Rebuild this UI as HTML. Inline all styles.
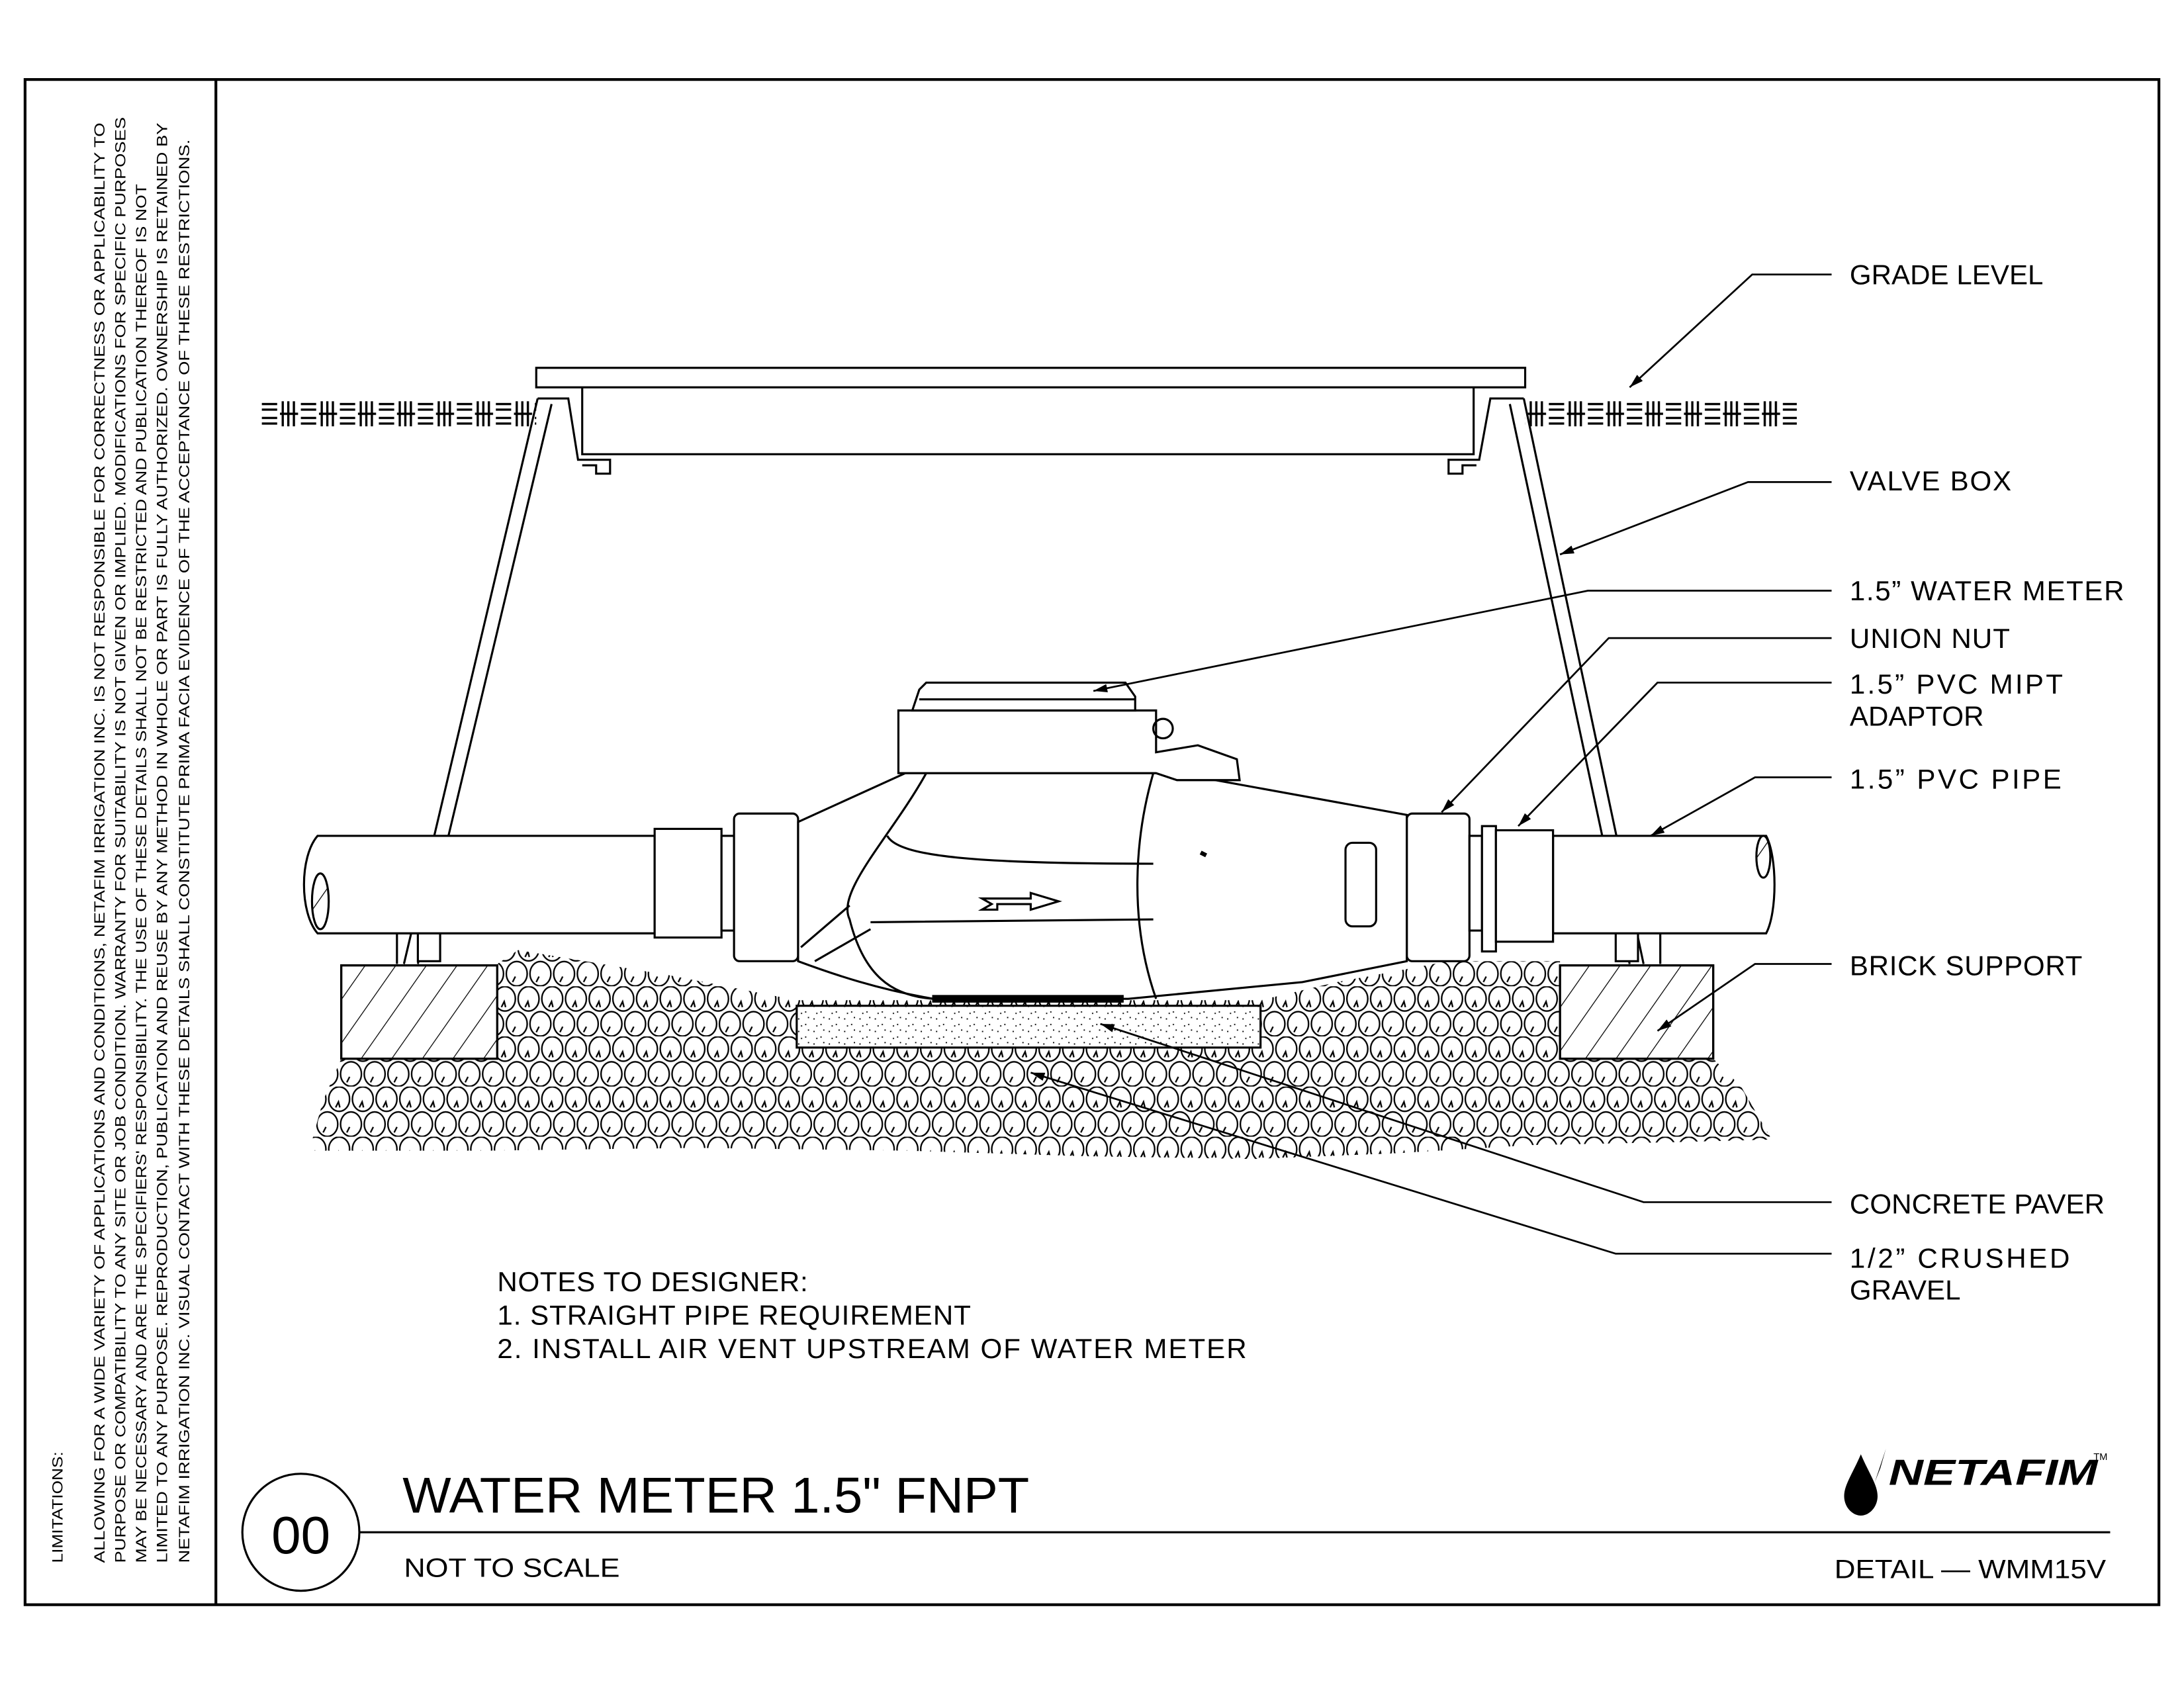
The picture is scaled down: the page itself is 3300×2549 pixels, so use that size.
<!DOCTYPE html>
<html><head><meta charset="utf-8"><style>
html,body{margin:0;padding:0;background:#fff}
svg{display:block}
text{font-family:"Liberation Sans",sans-serif;fill:#000}
</style></head><body>
<svg width="3300" height="2549" viewBox="0 0 1568 1211" xmlns="http://www.w3.org/2000/svg">
<defs>
<pattern id="hat" width="18" height="18" patternUnits="userSpaceOnUse" patternTransform="rotate(35)">
<line x1="0" y1="0" x2="0" y2="18" stroke="#000" stroke-width="1.2"/></pattern>
<pattern id="grd" width="28" height="26" patternUnits="userSpaceOnUse" x="187" y="284">
<rect width="28" height="26" fill="#fff"/>
<g stroke="#000" stroke-width="1.6">
<line x1="1" y1="6" x2="12" y2="6"/><line x1="1" y1="10" x2="12" y2="10"/>
<line x1="1" y1="16" x2="12" y2="16"/><line x1="1" y1="20" x2="12" y2="20"/>
<line x1="16" y1="4" x2="16" y2="22"/><line x1="20" y1="4" x2="20" y2="22"/>
<line x1="24" y1="4" x2="24" y2="22"/><line x1="14" y1="13" x2="27" y2="13"/></g>
</pattern>
<pattern id="grav" width="17" height="36" patternUnits="userSpaceOnUse" x="218" y="672">
<rect width="17" height="36" fill="#fff"/>
<g fill="none" stroke="#000" stroke-width="1.1">
<ellipse cx="8.5" cy="9" rx="7.5" ry="8.8"/>
<ellipse cx="0" cy="27" rx="7.5" ry="8.8"/>
<ellipse cx="17" cy="27" rx="7.5" ry="8.8"/>
<path d="M6,15 l2,-4 l1,4 M14,33 l2,-4"/>
</g></pattern>
<pattern id="dot" width="11" height="9" patternUnits="userSpaceOnUse">
<rect width="11" height="9" fill="#fff"/>
<g fill="#000"><rect x="1" y="2" width="0.9" height="0.9"/><rect x="6" y="6" width="0.9" height="0.9"/><rect x="8" y="1" width="0.9" height="0.9"/><rect x="3" y="7" width="0.9" height="0.9"/></g>
</pattern>
<marker id="ar" viewBox="0 0 10 6" refX="10" refY="3" markerWidth="10" markerHeight="6" orient="auto" markerUnits="userSpaceOnUse">
<path d="M0,0 L10,3 L0,6 z" fill="#000"/></marker>
</defs>
<rect x="0" y="0" width="1568" height="1211" fill="#fff"/>
<rect x="18" y="57" width="1532" height="1095" fill="none" stroke="#000" stroke-width="2"/>
<line x1="155" y1="57" x2="155" y2="1152" stroke="#000" stroke-width="2"/>

<g font-size="10.5">
<text transform="translate(45,1122) rotate(-90)" textLength="80" lengthAdjust="spacingAndGlyphs">LIMITATIONS:</text>
<text transform="translate(75,1122) rotate(-90)" textLength="1034" lengthAdjust="spacingAndGlyphs">ALLOWING FOR A WIDE VARIETY OF APPLICATIONS AND CONDITIONS, NETAFIM IRRIGATION INC. IS NOT RESPONSIBLE FOR CORRECTNESS OR APPLICABILITY TO</text>
<text transform="translate(90,1122) rotate(-90)" textLength="1038" lengthAdjust="spacingAndGlyphs">PURPOSE OR COMPATIBILITY TO ANY SITE OR JOB CONDITION. WARRANTY FOR SUITABILITY IS NOT GIVEN OR IMPLIED. MODIFICATIONS FOR SPECIFIC PURPOSES</text>
<text transform="translate(105,1122) rotate(-90)" textLength="990" lengthAdjust="spacingAndGlyphs">MAY BE NECESSARY AND ARE THE SPECIFIERS' RESPONSIBILITY. THE USE OF THESE DETAILS SHALL NOT BE RESTRICTED AND PUBLICATION THEREOF IS NOT</text>
<text transform="translate(120,1122) rotate(-90)" textLength="1034" lengthAdjust="spacingAndGlyphs">LIMITED TO ANY PURPOSE. REPRODUCTION, PUBLICATION AND REUSE BY ANY METHOD IN WHOLE OR PART IS FULLY AUTHORIZED. OWNERSHIP IS RETAINED BY</text>
<text transform="translate(136,1122) rotate(-90)" textLength="1022" lengthAdjust="spacingAndGlyphs">NETAFIM IRRIGATION INC. VISUAL CONTACT WITH THESE DETAILS SHALL CONSTITUTE PRIMA FACIA EVIDENCE OF THE ACCEPTANCE OF THESE RESTRICTIONS.</text>
</g>

<line x1="258" y1="1100" x2="1515" y2="1100" stroke="#000" stroke-width="1.5"/>
<circle cx="216" cy="1100" r="42" fill="#fff" stroke="#000" stroke-width="1.5"/>
<text x="216" y="1115" font-size="38" text-anchor="middle">00</text>
<text x="289" y="1086" font-size="36" textLength="450" lengthAdjust="spacingAndGlyphs">WATER METER 1.5" FNPT</text>
<text x="290" y="1132" font-size="19" textLength="155" lengthAdjust="spacingAndGlyphs">NOT TO SCALE</text>
<text x="1317" y="1133" font-size="19" textLength="195" lengthAdjust="spacingAndGlyphs">DETAIL — WMM15V</text>
<path d="M1336,1044 C1330,1058 1324,1066 1324,1074 C1324,1082 1330,1088 1336,1088 C1342,1088 1348,1082 1348,1074 C1348,1066 1342,1058 1336,1044 Z" fill="#000"/>
<path d="M1350,1054 L1354,1040 L1346,1064 Z" fill="#000"/>
<text x="1356" y="1066" font-size="26" font-weight="bold" font-style="italic" textLength="150" lengthAdjust="spacingAndGlyphs">NETAFIM</text>
<text x="1503" y="1048" font-size="7">TM</text>

<rect x="187" y="284" width="198" height="26" fill="url(#grd)"/>
<rect x="1095" y="284" width="195" height="26" fill="url(#grd)"/>

<path d="M222,826 L232,790 L245,760 L357,760 L357,692 L372,682 L420,690 L480,700 L572,718 L905,718 L960,705 L1040,690 L1120,690 L1120,760 L1230,760 L1250,780 L1272,818 L1200,820 L1100,822 L1000,828 L900,832 L780,830 L650,826 L500,824 L350,826 Z" fill="url(#grav)"/>

<g fill="none" stroke="#000" stroke-width="1.5">
<rect x="385" y="264" width="710" height="14" fill="#fff"/>
<path d="M386,286 L290,692 M396,290 L300,692"/>
<path d="M1094,286 L1180,692 M1084,290 L1170,692"/>
<path d="M386,286 L408,286 L415,330 L438,330 L438,340 L428,340 L428,334 L418,334"/>
<path d="M1094,286 L1070,286 L1062,330 L1040,330 L1040,340 L1050,340 L1050,334 L1060,334"/>
<path d="M418,278 L418,326 L1058,326 L1058,278"/>
<path d="M285,668 L285,692 M300,668 L300,690 L316,690 L316,668" fill="#fff"/>
<path d="M1160,668 L1160,690 L1176,690 L1176,668 M1192,668 L1192,692" fill="#fff"/>
<path d="M228,600 L470,600 L470,670 L228,670 C215,655 215,615 228,600 Z" fill="#fff"/>
<ellipse cx="230" cy="647" rx="6" ry="20" fill="url(#hat)"/>
<path d="M1115,600 L1268,600 C1276,615 1276,655 1268,670 L1115,670 Z" fill="#fff"/>
<ellipse cx="1266" cy="615" rx="5" ry="15" fill="url(#hat)"/>
<rect x="470" y="595" width="48" height="78" fill="#fff"/>
<rect x="518" y="600" width="9" height="68" fill="#fff"/>
<rect x="527" y="584" width="46" height="106" rx="4" fill="#fff"/>
<rect x="1010" y="584" width="45" height="106" rx="4" fill="#fff"/>
<rect x="1055" y="600" width="9" height="68" fill="#fff"/>
<rect x="1064" y="593" width="10" height="90" fill="#fff"/>
<rect x="1074" y="596" width="41" height="80" fill="#fff"/>
<path d="M573,590 L650,555 L845,555 L1010,585 L1010,690 L935,705 L810,717 L670,717 C630,710 600,700 573,690 Z" fill="#fff"/>
<path d="M665,555 C640,600 600,640 610,660 C620,700 640,715 670,717"/>
<path d="M828,555 C815,600 810,660 830,717"/>
<path d="M637,600 C645,615 700,620 828,620 M625,662 L828,660"/>
<path d="M575,680 L610,650 M585,690 L625,667"/>
<path d="M705,645 L740,645 L740,641 L760,647 L740,653 L740,649 L716,649 L716,653 L705,653 L712,649 Z"/>
<rect x="966" y="605" width="22" height="60" rx="5" fill="#fff"/>
<rect x="670" y="715" width="136" height="4" fill="#000"/>
<path d="M862,612 L866,614" stroke-width="3"/>
<path d="M645,555 L645,510 L830,510 L830,540 L860,535 L888,545 L890,560 L845,560 L830,555 Z" fill="#fff"/>
<path d="M655,510 L660,495 L665,490 L808,490 L815,500 L815,510 Z" fill="#fff"/>
<path d="M660,502 L815,502"/>
<circle cx="835" cy="523" r="7"/>
<rect x="245" y="693" width="112" height="67" fill="#fff"/>
<rect x="245" y="693" width="112" height="67" fill="url(#hat)"/>
<rect x="1120" y="693" width="110" height="67" fill="#fff"/>
<rect x="1120" y="693" width="110" height="67" fill="url(#hat)"/>
<rect x="572" y="722" width="333" height="30" fill="url(#dot)"/>
</g>

<g stroke="#000" stroke-width="1.3" fill="none">
<path d="M1315,197 L1258,197 L1170,278" marker-end="url(#ar)"/>
<path d="M1315,346 L1255,346 L1120,398" marker-end="url(#ar)"/>
<path d="M1315,424 L1140,424 L785,496" marker-end="url(#ar)"/>
<path d="M1315,458 L1155,458 L1035,583" marker-end="url(#ar)"/>
<path d="M1315,490 L1190,490 L1090,593" marker-end="url(#ar)"/>
<path d="M1315,558 L1260,558 L1185,600" marker-end="url(#ar)"/>
<path d="M1315,692 L1260,692 L1190,740" marker-end="url(#ar)"/>
<path d="M1315,863 L1180,863 L790,735" marker-end="url(#ar)"/>
<path d="M1315,900 L1160,900 L740,770" marker-end="url(#ar)"/>
</g>
<g font-size="20">
<text x="1328" y="204" textLength="139">GRADE LEVEL</text>
<text x="1328" y="352" textLength="116">VALVE BOX</text>
<text x="1328" y="431" textLength="197">1.5” WATER METER</text>
<text x="1328" y="465" textLength="115">UNION NUT</text>
<text x="1328" y="498" textLength="153">1.5” PVC MIPT</text>
<text x="1328" y="521">ADAPTOR</text>
<text x="1328" y="566" textLength="152">1.5” PVC PIPE</text>
<text x="1328" y="700" textLength="167">BRICK SUPPORT</text>
<text x="1328" y="871" textLength="183">CONCRETE PAVER</text>
<text x="1328" y="910" textLength="158">1/2” CRUSHED</text>
<text x="1328" y="933">GRAVEL</text>
<text x="357" y="927" textLength="223">NOTES TO DESIGNER:</text>
<text x="357" y="951" textLength="340">1. STRAIGHT PIPE REQUIREMENT</text>
<text x="357" y="975" textLength="538">2. INSTALL AIR VENT UPSTREAM OF WATER METER</text>
</g>
</svg>
</body></html>
